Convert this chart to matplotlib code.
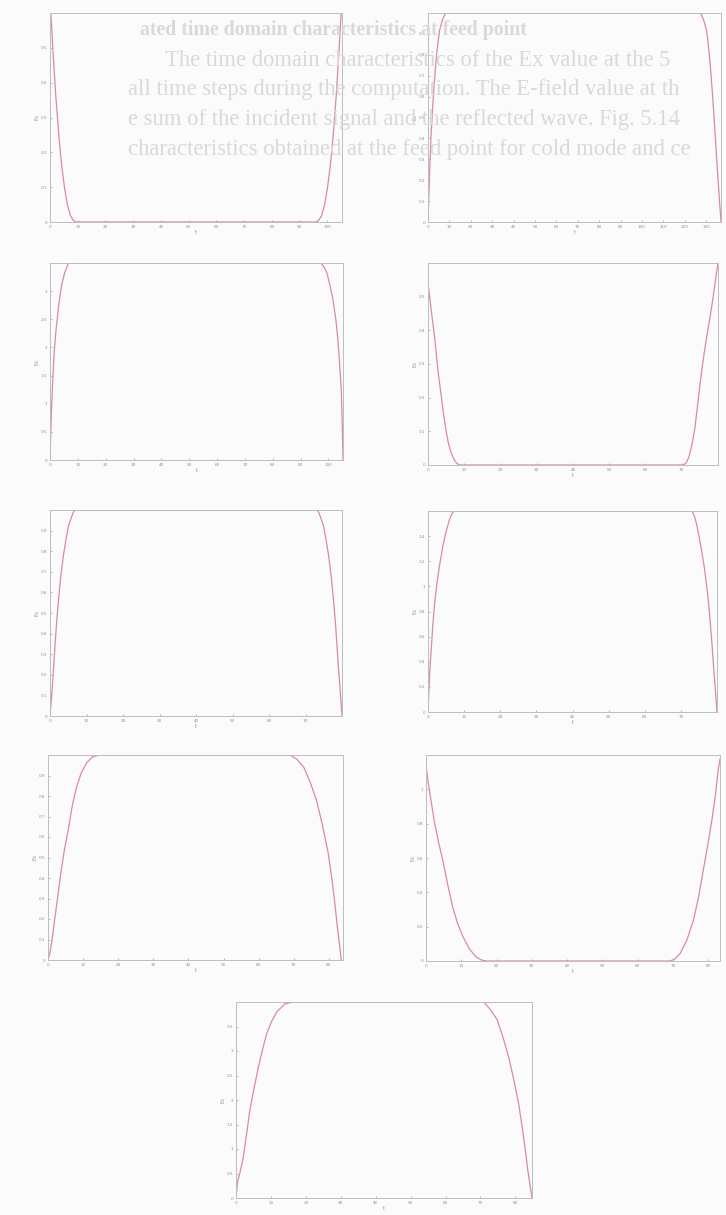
import numpy as np
import matplotlib
matplotlib.use("Agg")
from matplotlib import pyplot as plt

W, H = 726, 1215

# curve samples (x in % of the time axis, y as fraction of the axis height)
x1 = [0, 0.25, 0.5, 0.75, 1, 1.5, 2, 2.5, 3, 3.5, 4, 5, 6, 7, 8, 9, 50,
      91, 92, 93, 94, 95, 96, 96.5, 97, 97.5, 98, 98.5, 99, 99.25, 99.5, 99.75, 100]
y1 = [1.05, 1.0, 0.95, 0.89, 0.82, 0.71, 0.6, 0.51, 0.42, 0.34, 0.27, 0.16, 0.08, 0.03, 0.008, 0, 0,
      0, 0.008, 0.03, 0.08, 0.16, 0.27, 0.34, 0.42, 0.51, 0.6, 0.71, 0.82, 0.89, 0.95, 1.0, 1.05]

x2 = [0, 0.25, 0.5, 1, 1.5, 2, 2.5, 3, 3.5, 4, 5, 6, 50,
      93, 94, 95, 95.5, 96, 96.5, 97, 97.5, 98, 98.5, 99, 99.5, 100]
y2 = [0, 0.11, 0.22, 0.4, 0.53, 0.64, 0.73, 0.81, 0.87, 0.92, 0.97, 1.0, 1.0,
      1.0, 0.97, 0.92, 0.87, 0.8, 0.72, 0.63, 0.53, 0.42, 0.31, 0.2, 0.1, 0]

x3 = [0, 0.25, 0.5, 1, 1.5, 2, 3, 4, 5, 6.3, 50,
      92.5, 93.5, 94.5, 95.5, 96.5, 97.5, 98.2, 98.8, 99.4, 99.8, 100]
y3 = [0, 0.13, 0.25, 0.43, 0.56, 0.65, 0.79, 0.89, 0.95, 1.0, 1.0,
      1.0, 0.98, 0.95, 0.89, 0.82, 0.72, 0.62, 0.5, 0.36, 0.15, 0]

x4 = [0, 0.5, 1, 1.6, 2.3, 3, 3.5, 4.3, 5.2, 6, 7, 8, 9, 10, 11, 50,
      88, 89, 90, 91, 92, 93, 93.7, 94.5, 95.5, 96.3, 97, 98, 98.7, 99.4, 100]
y4 = [0.9, 0.84, 0.78, 0.71, 0.63, 0.53, 0.46, 0.37, 0.27, 0.19, 0.11, 0.06, 0.025, 0.007, 0, 0,
      0, 0.01, 0.04, 0.1, 0.18, 0.3, 0.39, 0.48, 0.58, 0.65, 0.71, 0.8, 0.87, 0.94, 1.0]

x5 = [0, 0.6, 1.2, 1.8, 2.3, 3, 3.8, 4.6, 5.5, 6.3, 7.2, 8, 8.6, 50,
      91.4, 92, 92.8, 93.7, 94.5, 95.4, 96.2, 97, 97.7, 98.2, 98.8, 99.4, 100]
y5 = [0, 0.1, 0.23, 0.36, 0.46, 0.58, 0.69, 0.78, 0.86, 0.92, 0.96, 0.99, 1.0, 1.0,
      1.0, 0.99, 0.96, 0.92, 0.86, 0.78, 0.69, 0.58, 0.46, 0.36, 0.23, 0.12, 0]

x6 = [0, 0.3, 0.6, 1.2, 1.7, 2.3, 3, 4, 5.2, 6.3, 7.5, 8.4, 9.2, 50,
      91.4, 92.3, 93, 93.7, 94.7, 95.6, 96.4, 97.1, 97.7, 98.3, 98.9, 99.5, 100]
y6 = [0, 0.1, 0.2, 0.33, 0.44, 0.54, 0.63, 0.73, 0.83, 0.9, 0.96, 0.99, 1.0, 1.0,
      1.0, 0.97, 0.93, 0.88, 0.8, 0.72, 0.63, 0.54, 0.44, 0.33, 0.21, 0.1, 0]

x7 = [0, 0.6, 1.4, 2.3, 3.4, 4.5, 5.6, 6.8, 8.2, 9.6, 11.2, 13, 15, 17.5, 50,
      82, 84.3, 86.7, 88.8, 91, 93, 95, 96.2, 97.2, 98.1, 98.9, 99.4]
y7 = [0, 0.03, 0.1, 0.2, 0.32, 0.44, 0.54, 0.63, 0.75, 0.84, 0.91, 0.96, 0.99, 1.0, 1.0,
      1.0, 0.98, 0.94, 0.87, 0.78, 0.66, 0.52, 0.4, 0.28, 0.16, 0.065, 0]

x8 = [0, 0.6, 1.7, 2.8, 4.2, 5.7, 7.4, 9.1, 10.8, 12.5, 14.7, 17, 18.8, 20.5, 50,
      83, 84.7, 86.4, 88.7, 91, 92.7, 94.3, 95.8, 97.2, 98.4, 99.4, 100]
y8 = [0.95, 0.88, 0.78, 0.68, 0.58, 0.49, 0.37, 0.26, 0.18, 0.12, 0.06, 0.02, 0.005, 0, 0,
      0, 0.01, 0.036, 0.1, 0.2, 0.31, 0.44, 0.56, 0.68, 0.8, 0.93, 0.98]

x9 = [0, 0.5, 1.5, 2.5, 3.6, 4.7, 6.1, 7.6, 9, 10.4, 12, 13.8, 16.5, 19.4, 50,
      83.7, 86, 88.2, 90.2, 92.1, 93.9, 95.5, 96.6, 97.7, 98.6, 99.4, 100]
y9 = [0, 0.08, 0.14, 0.21, 0.33, 0.45, 0.56, 0.67, 0.76, 0.84, 0.9, 0.95, 0.99, 1.0, 1.0,
      1.0, 0.96, 0.91, 0.82, 0.72, 0.6, 0.48, 0.37, 0.25, 0.14, 0.06, 0]

curves = [(x1, y1), (x2, y2), (x3, y3), (x4, y4), (x5, y5), (x6, y6), (x7, y7), (x8, y8), (x9, y9)]

# x tick spacing (in %) and y divisions for each panel
x_steps = [9.5, 7.3, 9.5, 12.5, 12.5, 12.5, 11.9, 12.0, 11.8]
y_divs = [6, 10, 7, 6, 10, 8, 10, 6, 8]
y_steps = [0.1, 0.1, 0.5, 0.1, 0.1, 0.2, 0.1, 0.2, 0.5]

page_lines = [
    "ated time domain characteristics at feed point",
    "The time domain characteristics of the Ex value at the 5",
    "all time steps during the computation. The E-field value at th",
    "e sum of the incident signal and the reflected wave. Fig. 5.14",
    "characteristics obtained at the feed point for cold mode and ce",
]

# panel boxes in pixels: left, top, right, bottom
boxes = [
    (50, 13, 342, 222), (428, 13, 721, 222),
    (50, 263, 343, 460), (428, 263, 718, 465),
    (50, 510, 342, 716), (428, 511, 717, 712),
    (48, 755, 343, 960), (426, 755, 720, 961),
    (236, 1002, 532, 1198),
]

fig = plt.figure(figsize=(W / 100, H / 100), dpi=100)
fig.patch.set_facecolor("#fbfbfb")

# text of the page showing through the scan
text_pos = [(140, 30, "bold", 14.3), (165, 60, "normal", 16.3), (128, 90, "normal", 16.3),
            (128, 119, "normal", 16.3), (128, 149, "normal", 16.3)]
for (px, py, wt, fs), s in zip(text_pos, page_lines):
    fig.text(px / W, 1 - py / H, s, fontsize=fs, family="Liberation Serif", weight=wt,
             color="#d9d9d9", va="center", ha="left", zorder=0)

spine_c = "#bcbccb"
line_c = "#da8ba1"

for i, ((xs, ys), (l, t, r, b)) in enumerate(zip(curves, boxes)):
    ax = fig.add_axes([l / W, 1 - b / H, (r - l) / W, (b - t) / H])
    ax.set_facecolor("none")
    ax.plot(xs, ys, color=line_c, lw=0.9)
    ax.set_xlim(0, 100)
    ax.set_ylim(0, 1)
    for sp in ax.spines.values():
        sp.set_color(spine_c)
        sp.set_linewidth(0.7)
    xt = np.arange(0, 100, x_steps[i])
    ax.set_xticks(xt)
    ax.set_xticklabels([str(k * 10) for k in range(len(xt))])
    yt = np.arange(0, y_divs[i]) / y_divs[i]
    ax.set_yticks(yt)
    ax.set_yticklabels(["%g" % round(y_steps[i] * k, 2) for k in range(y_divs[i])])
    ax.tick_params(direction="in", length=1.5, width=0.5, color="#999999",
                   labelsize=3, labelcolor="#8f8f8f", pad=2)
    ax.set_xlabel("t", fontsize=3.5, color="#8f8f8f", labelpad=1)
    ax.set_ylabel("Ex", fontsize=3.5, color="#8f8f8f", labelpad=1)

fig.savefig("out.png", dpi=100, facecolor=fig.get_facecolor())
